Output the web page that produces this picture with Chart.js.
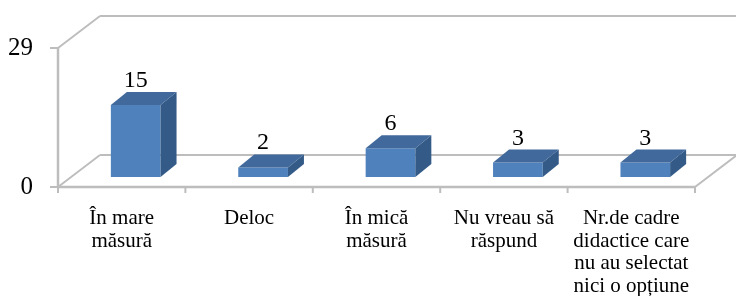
<!DOCTYPE html>
<html>
<head>
<meta charset="utf-8">
<script src="https://cdn.jsdelivr.net/npm/chart.js@4.4.1/dist/chart.umd.min.js"></script>
<style>
  body { margin: 0; background: #fff; }
  #chart { display: block; }
</style>
</head>
<body>
<canvas id="chart" width="736" height="296"></canvas>
<script>
// Data
const categories = [
    ['În mare', 'măsură'],
    ['Deloc'],
    ['În mică', 'măsură'],
    ['Nu vreau să', 'răspund'],
    ['Nr.de cadre', 'didactice care', 'nu au selectat', 'nici o opțiune']
];
const values = [15, 2, 6, 3, 3];
const yTicks = [0, 29];

// 3D look: offsets of the floor depth, bar position in depth and bar depth
const floorDepth = { dx: 42, dy: -32 };
const barShift = { dx: 14, dy: -10 };
const barDepth = { dx: 16, dy: -13 };
const lineColor = '#bdbdbd';
const frontColor = '#4f81bd';
const topColor = '#41699b';
const sideColor = '#345b88';
const serif = '"Liberation Serif", "Times New Roman", serif';

function line(ctx, x1, y1, x2, y2) {
    ctx.beginPath();
    ctx.moveTo(x1, y1);
    ctx.lineTo(x2, y2);
    ctx.stroke();
}

const box3d = {
    id: 'box3d',
    beforeDatasetsDraw(chart) {
        const { ctx, chartArea, scales } = chart;
        const y = scales.y;
        const left = chartArea.left, right = chartArea.right;
        const y0 = y.getPixelForValue(yTicks[0]);
        const yTop = y.getPixelForValue(yTicks[yTicks.length - 1]);
        ctx.save();
        ctx.strokeStyle = lineColor;
        ctx.lineWidth = 2;
        // back wall: top gridline and floor back edge
        line(ctx, left + floorDepth.dx, yTop + floorDepth.dy, right + floorDepth.dx, yTop + floorDepth.dy);
        line(ctx, left + floorDepth.dx, y0 + floorDepth.dy, right + floorDepth.dx, y0 + floorDepth.dy);
        // side diagonals
        line(ctx, left, yTop, left + floorDepth.dx, yTop + floorDepth.dy);
        line(ctx, left, y0, left + floorDepth.dx, y0 + floorDepth.dy);
        line(ctx, right, y0, right + floorDepth.dx, y0 + floorDepth.dy);
        // front axes
        ctx.lineWidth = 2.5;
        line(ctx, left, yTop, left, y0);
        line(ctx, left, y0, right, y0);
        // tick marks
        ctx.lineWidth = 2;
        yTicks.forEach(v => {
            const py = y.getPixelForValue(v);
            line(ctx, left - 8, py, left, py);
        });
        const step = (right - left) / categories.length;
        for (let i = 0; i <= categories.length; i++) {
            const px = left + i * step;
            line(ctx, px, y0, px, y0 + 6);
        }
        ctx.restore();

        // bars sit further back in the box
        ctx.save();
        ctx.translate(barShift.dx, barShift.dy);
    },
    afterDatasetsDraw(chart) {
        const { ctx } = chart;
        const meta = chart.getDatasetMeta(0);
        meta.data.forEach((bar, i) => {
            const { x, y, base, width } = bar.getProps(['x', 'y', 'base', 'width'], true);
            const l = x - width / 2, r = x + width / 2;
            // top face
            ctx.fillStyle = topColor;
            ctx.beginPath();
            ctx.moveTo(l, y);
            ctx.lineTo(l + barDepth.dx, y + barDepth.dy);
            ctx.lineTo(r + barDepth.dx, y + barDepth.dy);
            ctx.lineTo(r, y);
            ctx.closePath();
            ctx.fill();
            // side face
            ctx.fillStyle = sideColor;
            ctx.beginPath();
            ctx.moveTo(r, y);
            ctx.lineTo(r + barDepth.dx, y + barDepth.dy);
            ctx.lineTo(r + barDepth.dx, base + barDepth.dy);
            ctx.lineTo(r, base);
            ctx.closePath();
            ctx.fill();
            // value label
            ctx.fillStyle = '#000';
            ctx.font = '24px ' + serif;
            ctx.textAlign = 'center';
            ctx.textBaseline = 'alphabetic';
            ctx.fillText(String(values[i]), x, y + barDepth.dy - 5);
        });
        ctx.restore();
    }
};

new Chart(document.getElementById('chart').getContext('2d'), {
    type: 'bar',
    data: {
        labels: categories,
        datasets: [{
            data: values,
            backgroundColor: frontColor,
            borderWidth: 0,
            categoryPercentage: 1,
            barPercentage: 0.39
        }]
    },
    options: {
        responsive: false,
        animation: false,
        layout: { padding: { top: 48, right: 41, left: 0, bottom: 0 } },
        plugins: {
            legend: { display: false },
            tooltip: { enabled: false }
        },
        scales: {
            x: {
                grid: { display: false },
                border: { display: false },
                ticks: {
                    color: '#000',
                    font: { family: serif, size: 21, lineHeight: 1.08 },
                    padding: 12,
                    maxRotation: 0,
                    autoSkip: false
                },
                afterFit: scale => { scale.height = 109; }
            },
            y: {
                min: 0,
                max: 29,
                grid: { display: false },
                border: { display: false },
                afterBuildTicks: scale => { scale.ticks = yTicks.map(v => ({ value: v })); },
                ticks: {
                    color: '#000',
                    font: { family: serif, size: 25 },
                    padding: 17
                },
                afterFit: scale => { scale.width = 58; }
            }
        }
    },
    plugins: [box3d]
});
</script>
</body>
</html>
